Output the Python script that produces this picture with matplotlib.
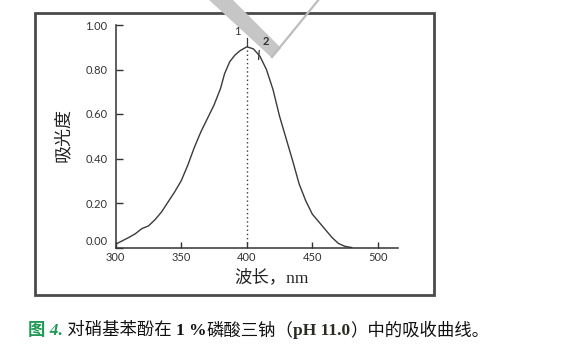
import matplotlib
matplotlib.use("Agg")
import matplotlib.pyplot as plt
from matplotlib.patches import Rectangle, Polygon
from matplotlib.lines import Line2D
from matplotlib.transforms import ScaledTranslation

# ---- data ----
wavelength = [300, 305, 310, 315, 320, 325, 330, 335, 340, 345, 350, 355, 360,
              365, 370, 375, 380, 383, 387, 391, 395, 400, 405, 410, 415, 420,
              425, 430, 435, 440, 445, 450, 455, 460, 465, 470, 475, 480]
absorbance = [0.015, 0.030, 0.045, 0.062, 0.085, 0.097, 0.125, 0.160, 0.205,
              0.250, 0.300, 0.370, 0.450, 0.520, 0.580, 0.640, 0.715, 0.780,
              0.835, 0.865, 0.885, 0.902, 0.893, 0.860, 0.800, 0.710, 0.590,
              0.490, 0.390, 0.285, 0.210, 0.150, 0.115, 0.080, 0.045, 0.018,
              0.005, 0.000]
x_ticks = [300, 350, 400, 450, 500]
y_ticks = [0.00, 0.20, 0.40, 0.60, 0.80, 1.00]
y_ticklabels = ["0.00", "0.20", "0.40", "0.60", "0.80", "1.00"]
peak_wavelength = 400
peak_absorbance = 0.902
marker2_wavelength = 409
marker2_absorbance = 0.855

xlabel = "波长，nm"
ylabel = "吸光度"

W, H = 566, 359
fig = plt.figure(figsize=(W / 100, H / 100), dpi=100)
fig.patch.set_facecolor("white")

def fx(px):
    return px / W

def fy(py):
    return 1 - py / H

# outer frame
fig.add_artist(Rectangle((fx(35), fy(295)), fx(434) - fx(35), fy(13) - fy(295),
                         transform=fig.transFigure, fill=False,
                         edgecolor="#4a4a4a", linewidth=2.0, zorder=1))

left, right, bottom, top = 115.7, 397.5, 247.5, 25
ax = fig.add_axes([fx(left), fy(bottom), fx(right) - fx(left), fy(top) - fy(bottom)])
ax.set_facecolor("none")

ax.plot(wavelength, absorbance, color="#3a3a3a", linewidth=1.0)
ax.vlines(peak_wavelength, 0.02, peak_absorbance, colors="#3a3a3a",
          linestyles=(0, (1, 2)), linewidth=1.0)

# peak markers
ax.plot([peak_wavelength, peak_wavelength], [peak_absorbance + 0.005, 0.94],
        color="#3a3a3a", linewidth=0.9)
ax.plot([marker2_wavelength, marker2_wavelength + 0.5],
        [marker2_absorbance - 0.01, 0.885], color="#3a3a3a", linewidth=0.9)

ax.set_xlim(300, 515)
ax.set_ylim(0, 1.0)
ax.set_xticks(x_ticks)
ax.set_yticks(y_ticks)
ax.set_yticklabels(y_ticklabels)
for s in ["top", "right"]:
    ax.spines[s].set_visible(False)
for s in ["left", "bottom"]:
    ax.spines[s].set_color("#333333")
    ax.spines[s].set_linewidth(1.1)
ax.tick_params(axis="y", direction="in", length=5, width=1.0, pad=6,
               colors="#333333", labelsize=8)
ax.tick_params(axis="x", direction="in", length=4, width=1.0, pad=3,
               colors="#333333", labelsize=8)
for lab in ax.get_xticklabels() + ax.get_yticklabels():
    lab.set_family("Lato")

fig.text(fx(272), fy(278), xlabel, fontsize=12.5,
         family=["Liberation Serif", "Noto Sans CJK SC"],
         ha="center", va="center", color="#222222")
fig.text(fx(63), fy(135), ylabel, fontsize=13, rotation=90,
         family=["Noto Sans CJK SC"], ha="center", va="center", color="#222222")

# caption built from pieces
fam = ["Liberation Serif", "Noto Sans CJK SC"]
pieces = [
    ("图 4.", "#1f9a55", "bold", "italic"),
    (" 对硝基苯酚在 ", "#111111", "normal", "normal"),
    ("1 %", "#111111", "bold", "normal"),
    ("磷酸三钠（", "#111111", "normal", "normal"),
    ("pH 11.0", "#2b2a20", "bold", "normal"),
    ("）中的吸收曲线。", "#111111", "normal", "normal"),
]
cap_texts = []
for txt, col, wt, st in pieces:
    cap_texts.append(fig.text(0, 0, txt, fontsize=12.5, family=fam, color=col,
                              fontweight=wt, style=st, ha="left", va="center"))
fig.canvas.draw()
renderer = fig.canvas.get_renderer()
x_cur = fx(28)
for t in cap_texts:
    t.set_position((x_cur, fy(331)))
    bb = t.get_window_extent(renderer)
    x_cur += bb.width / fig.bbox.width

# watermark band overlaying the top of the figure
band = Polygon([(fx(207), fy(-2)), (fx(231), fy(-2)), (fx(281), fy(48)),
                (fx(272), fy(58))], closed=True, transform=fig.transFigure,
               facecolor="#c6c6c6", edgecolor="none", zorder=10)
fig.add_artist(band)
fig.add_artist(Line2D([fx(272), fx(320)], [fy(57), fy(-2)],
                      transform=fig.transFigure, color="#bdbdbd",
                      linewidth=1.6, zorder=10))

# peak labels drawn above the watermark
fig.text(393, 0.97, "1", transform=ax.transData, fontsize=8, family="Lato",
         color="#333333", ha="center", va="center", zorder=12)
fig.text(414.5, 0.925, "2", transform=ax.transData, fontsize=8, family="Lato",
         fontweight="bold", color="#333333", ha="center", va="center", zorder=12)

# the 0.00 label sits a little above the axis line in the reference
zero_lab = ax.yaxis.get_major_ticks()[0].label1
zero_lab.set_transform(zero_lab.get_transform()
                       + ScaledTranslation(0, 5 / 72, fig.dpi_scale_trans))

fig.savefig("out.png", dpi=100, facecolor="white")
